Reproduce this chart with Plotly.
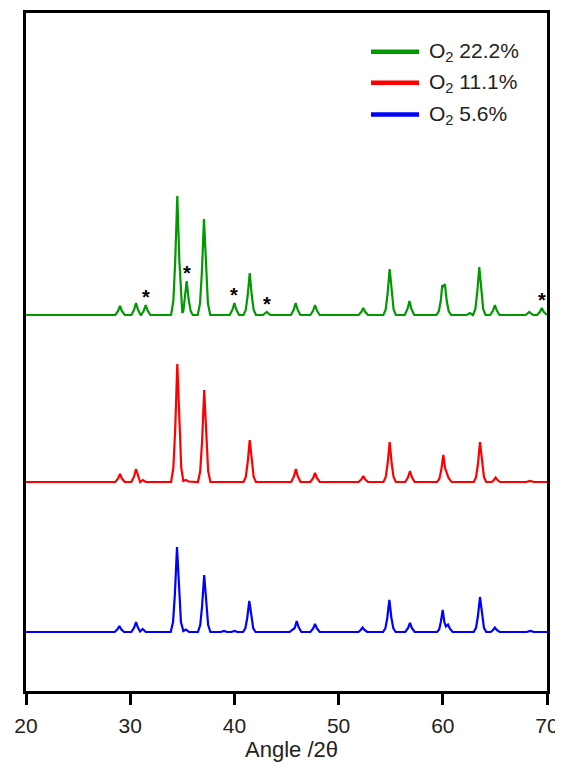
import plotly.graph_objects as go

# ---- data (angle 2θ, intensity above each trace's baseline) ----
pattern_22_2 = [
    (20.0, 0),
    (28.57, 0), (28.84, 4), (29.02, 9), (29.2, 4), (29.47, 0),
    (30.11, 0), (30.38, 5.4), (30.56, 12), (30.74, 5.4), (31.0, 0),
    (31.05, 0), (31.31, 4.5), (31.49, 10), (31.67, 4.5), (31.94, 0),
    (33.92, 0), (34.14, 14), (34.32, 54), (34.52, 119), (34.72, 54), (34.88, 14), (34.98, 3),
    (35.0, 2), (35.1, 4), (35.22, 15), (35.42, 34), (35.62, 15), (35.8, 4), (36.0, 0),
    (36.48, 0), (36.7, 11.5), (36.88, 43), (37.08, 96), (37.28, 43), (37.46, 11.5), (37.68, 0),
    (39.55, 0), (39.82, 5.4), (40.0, 12), (40.18, 5.4), (40.45, 0),
    (40.87, 0), (41.09, 5), (41.27, 19), (41.47, 42), (41.67, 19), (41.85, 5), (42.07, 0),
    (42.75, 0), (43.1, 3), (43.45, 0),
    (45.43, 0), (45.7, 5.4), (45.88, 12), (46.06, 5.4), (46.33, 0),
    (47.29, 0), (47.56, 4.5), (47.74, 10), (47.92, 4.5), (48.19, 0),
    (51.92, 0), (52.19, 3.2), (52.37, 7), (52.55, 3.2), (52.82, 0),
    (54.3, 0), (54.52, 5.5), (54.7, 21), (54.9, 46), (55.1, 21), (55.28, 5.5), (55.5, 0),
    (56.35, 0), (56.62, 6.3), (56.8, 14), (56.98, 6.3), (57.25, 0),
    (59.4, 0), (59.62, 4), (59.8, 14), (59.95, 30), (60.08, 28), (60.2, 31), (60.38, 14), (60.56, 4), (60.8, 0),
    (62.3, 0), (62.6, 2), (62.85, 0),
    (62.9, 0), (63.12, 5.8), (63.3, 22), (63.5, 48), (63.7, 22), (63.88, 5.8), (64.1, 0),
    (64.55, 0), (64.82, 4.5), (65.0, 10), (65.18, 4.5), (65.45, 0),
    (67.95, 0), (68.3, 3), (68.65, 0),
    (69.05, 0), (69.32, 3.2), (69.5, 7), (69.68, 3.2), (69.95, 0),
    (70.0, 0),
]

pattern_11_1 = [
    (20.0, 0),
    (28.57, 0), (28.84, 3.6), (29.02, 8), (29.2, 3.6), (29.47, 0),
    (30.11, 0), (30.38, 5.9), (30.56, 13), (30.74, 5.9), (30.95, 0),
    (31.0, 0.5), (31.2, 2), (31.5, 0),
    (33.92, 0), (34.14, 14), (34.32, 53), (34.52, 118), (34.72, 53), (34.9, 14), (35.1, 1),
    (35.2, 1.5), (35.35, 2), (35.6, 0.5),
    (36.5, 0), (36.72, 11), (36.9, 41), (37.1, 92), (37.3, 41), (37.48, 11), (37.7, 0),
    (40.87, 0), (41.09, 5), (41.27, 19), (41.47, 42), (41.67, 19), (41.85, 5), (42.07, 0),
    (45.45, 0), (45.72, 5.9), (45.9, 13), (46.08, 5.9), (46.35, 0),
    (47.29, 0), (47.56, 4), (47.74, 9), (47.92, 4), (48.19, 0),
    (51.92, 0), (52.19, 2.7), (52.37, 6), (52.55, 2.7), (52.82, 0),
    (54.3, 0), (54.52, 4.8), (54.7, 18), (54.9, 40), (55.1, 18), (55.28, 4.8), (55.5, 0),
    (56.4, 0), (56.67, 5), (56.85, 11), (57.03, 5), (57.3, 0),
    (59.45, 0), (59.67, 3.2), (59.85, 12), (60.05, 27), (60.22, 14), (60.37, 10), (60.55, 4), (60.85, 0),
    (62.97, 0), (63.19, 4.8), (63.37, 18), (63.57, 40), (63.77, 18), (63.95, 4.8), (64.17, 0),
    (64.7, 0), (64.9, 2), (65.07, 4.5), (65.25, 2), (65.5, 0),
    (68.0, 0), (68.37, 1), (68.75, 0),
    (70.0, 0),
]

pattern_5_6 = [
    (20.0, 0),
    (28.51, 0), (28.78, 2.7), (28.96, 6), (29.14, 2.7), (29.41, 0),
    (30.11, 0), (30.38, 4.5), (30.56, 10), (30.74, 4.5), (30.95, 0.5),
    (31.05, 1.2), (31.2, 3), (31.5, 0),
    (33.89, 0), (34.11, 10), (34.29, 38), (34.49, 85), (34.69, 38), (34.87, 10), (35.1, 1),
    (35.35, 2.5), (35.65, 0),
    (36.5, 0), (36.72, 7), (36.9, 26), (37.1, 57), (37.3, 26), (37.48, 7), (37.7, 0),
    (38.7, 0), (39.0, 1), (39.3, 0),
    (39.7, 0), (40.0, 1), (40.3, 0),
    (40.83, 0), (41.05, 3.7), (41.23, 14), (41.43, 31), (41.63, 14), (41.81, 3.7), (42.03, 0),
    (45.3, 0), (45.6, 2.5), (45.75, 3.5), (45.82, 5), (45.98, 11), (46.16, 5), (46.43, 0),
    (47.29, 0), (47.56, 3.6), (47.74, 8), (47.92, 3.6), (48.19, 0),
    (51.9, 0), (52.12, 2), (52.3, 4.5), (52.48, 2), (52.75, 0),
    (54.27, 0), (54.49, 3.8), (54.67, 14), (54.87, 32), (55.07, 14), (55.25, 3.8), (55.47, 0),
    (56.4, 0), (56.67, 4), (56.85, 9), (57.03, 4), (57.3, 0),
    (59.45, 0), (59.65, 2.6), (59.81, 10), (59.99, 22), (60.15, 10), (60.3, 5.5), (60.5, 7.5), (60.68, 3.4), (60.95, 0),
    (62.97, 0), (63.19, 4.2), (63.37, 16), (63.57, 35), (63.77, 16), (63.95, 4.2), (64.17, 0),
    (64.6, 0), (64.82, 2), (65.0, 4.5), (65.18, 2), (65.45, 0),
    (68.05, 0), (68.4, 1), (68.75, 0),
    (70.0, 0),
]

series_labels = ["O<sub>2</sub> 22.2%", "O<sub>2</sub> 11.1%", "O<sub>2</sub> 5.6%"]
series_patterns = [pattern_22_2, pattern_11_1, pattern_5_6]

# impurity peaks marked with * on the 22.2% pattern (angle, peak height)
star_angles = [31.49, 35.42, 40.0, 43.1, 69.5]
star_heights = [10, 34, 12, 3, 7]

x_ticks = [20, 30, 40, 50, 60, 70]
x_title = "Angle /2θ"

# ---- styling / layout ----
colors = ["#009900", "#FF0000", "#0000FF"]
offsets = [376, 209, 59]
FONT = "Liberation Sans, Arial, sans-serif"

# the page body adds an 8 px margin, so the figure is sized / placed to compensate
PAGE = 8
FIG_W, FIG_H = 563 - PAGE, 773 - PAGE
PLOT_L, PLOT_T, PLOT_W, PLOT_H = 26 - PAGE, 13 - PAGE, 521, 678

fig = go.Figure()
for pat, col, off in zip(series_patterns, colors, offsets):
    xs = [p[0] for p in pat]
    ys = [p[1] + off for p in pat]
    fig.add_trace(go.Scatter(x=xs, y=ys, mode="lines",
                             line=dict(color=col, width=2.2),
                             showlegend=False, hoverinfo="skip"))

for a, h in zip(star_angles, star_heights):
    fig.add_annotation(x=a, y=h + offsets[0], text="<b>*</b>", showarrow=False,
                       xanchor="center", yanchor="bottom", yshift=-5,
                       font=dict(family=FONT, size=20, color="black"))

# manual legend (positions given in reference page pixels)
def px(x):
    return (x - 26) / PLOT_W
def py(y):
    return (13 + PLOT_H - y) / PLOT_H

legend_y = [51.7, 82.7, 114.5]
for lab, col, yy in zip(series_labels, colors, legend_y):
    fig.add_shape(type="line", xref="paper", yref="paper",
                  x0=px(371), x1=px(419), y0=py(yy), y1=py(yy),
                  line=dict(color=col, width=4.5))
    fig.add_annotation(xref="paper", yref="paper", x=px(427), y=py(yy),
                       text=lab, showarrow=False, xanchor="left", yanchor="middle",
                       font=dict(family=FONT, size=21, color="#222222"))

# x-axis title
fig.add_annotation(xref="paper", yref="paper", x=px(291), y=py(749),
                   text=x_title, showarrow=False, xanchor="center", yanchor="middle",
                   font=dict(family=FONT, size=22, color="#222222"))

fig.update_layout(
    width=FIG_W, height=FIG_H,
    margin=dict(l=PLOT_L, r=FIG_W - PLOT_L - PLOT_W, t=PLOT_T,
                b=FIG_H - PLOT_T - PLOT_H, autoexpand=False),
    plot_bgcolor="white", paper_bgcolor="white",
    font=dict(family=FONT, size=21, color="#222222"),
)
fig.update_xaxes(range=[20, 70], tickvals=x_ticks, ticktext=[str(t) for t in x_ticks],
                 showgrid=False, zeroline=False, automargin=False,
                 showline=True, linecolor="black", linewidth=2.5, mirror=True,
                 ticks="outside", ticklen=11, tickwidth=2.5, tickcolor="black",
                 ticklabelstandoff=3,
                 tickfont=dict(family=FONT, size=21, color="#222222"))
fig.update_yaxes(range=[0, 678], showgrid=False, zeroline=False, automargin=False,
                 showticklabels=False, ticks="",
                 showline=True, linecolor="black", linewidth=2.5, mirror=True)

fig.write_html("out.html")
